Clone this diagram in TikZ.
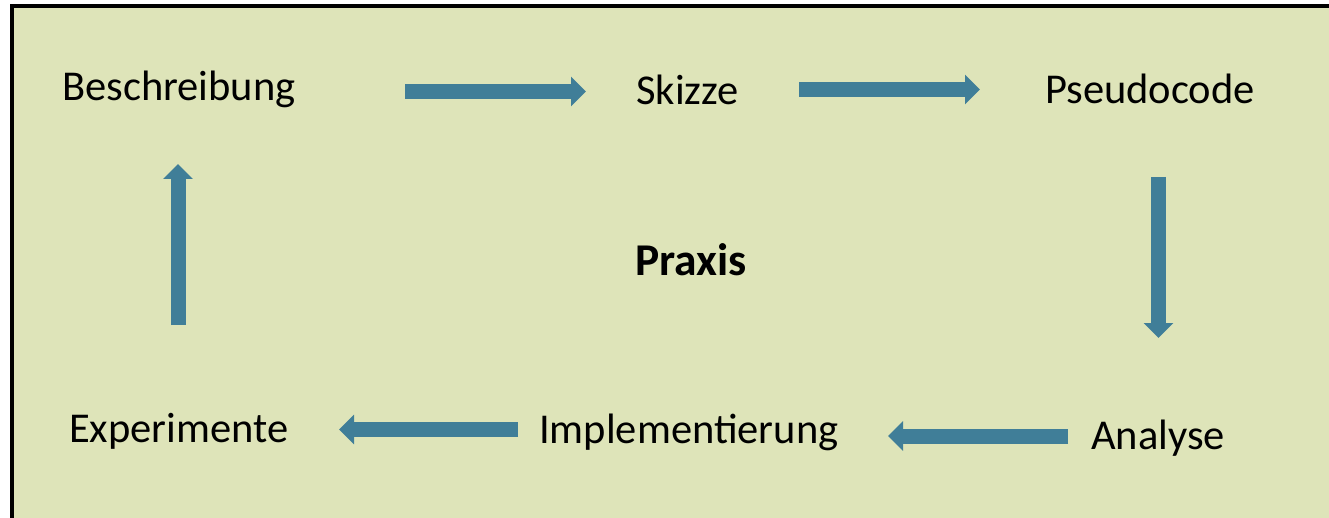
\documentclass[tikz,border=0pt]{standalone}
\usepackage{fontspec}
\setmainfont{Carlito}
\usetikzlibrary{arrows.meta}
\definecolor{panelfill}{RGB}{222,228,185}
\definecolor{flowblue}{RGB}{64,126,152}
\tikzset{
  x=1pt, y=-1pt,
  lbl/.style={anchor=base west, inner sep=0pt, font=\fontsize{42.5}{51}\selectfont},
  title/.style={anchor=base west, inner sep=0pt, font=\fontsize{45.5}{55}\selectfont\bfseries},
  blockarrow/.style={draw=flowblue, line width=15pt,
    -{Triangle[width=29pt,length=15pt]}},
}
\begin{document}
\begin{tikzpicture}
  \useasboundingbox (0,0) rectangle (1329,518);
  \begin{scope}
    \clip (0,0) rectangle (1329,518);
    \filldraw[fill=panelfill, draw=black, line width=4pt] (12,6) rectangle (1345,535);
  \end{scope}

  % step labels
  \node[lbl] (besch) at (62,101) {Beschreibung};
  \node[lbl] (skizze) at (636,105) {Skizze};
  \node[lbl] (pseudo) at (1045,104) {Pseudocode};
  \node[lbl] (analyse) at (1091,449) {Analyse};
  \node[lbl] (impl) at (539,443) {Implementierung};
  \node[lbl] (exper) at (69,442) {Experimente};
  \node[title] (praxis) at (635,276) {Praxis};

  % arrow end points
  \coordinate (a1s) at (405,91.5);  \coordinate (a1e) at (586,91.5);
  \coordinate (a2s) at (799,89.5);  \coordinate (a2e) at (980,89.5);
  \coordinate (a3s) at (1158.5,177); \coordinate (a3e) at (1158.5,338);
  \coordinate (a4s) at (1068,436);  \coordinate (a4e) at (888,436);
  \coordinate (a5s) at (518,429.5); \coordinate (a5e) at (339,429.5);
  \coordinate (a6s) at (178,325);   \coordinate (a6e) at (178,164);

  \draw[blockarrow] (a1s) -- (a1e);
  \draw[blockarrow] (a2s) -- (a2e);
  \draw[blockarrow] (a3s) -- (a3e);
  \draw[blockarrow] (a4s) -- (a4e);
  \draw[blockarrow] (a5s) -- (a5e);
  \draw[blockarrow] (a6s) -- (a6e);
\end{tikzpicture}
\end{document}
